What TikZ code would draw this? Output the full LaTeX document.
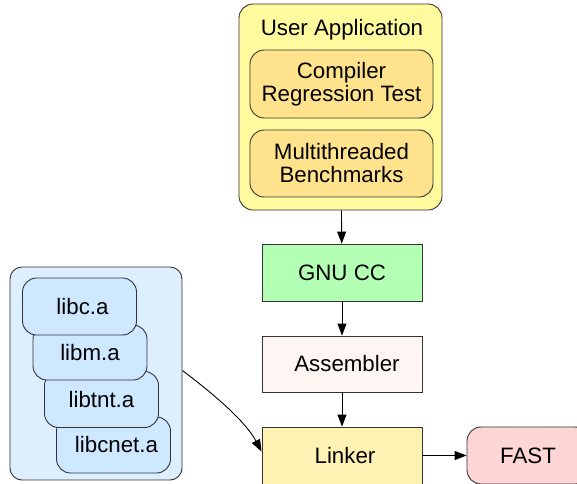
\documentclass[tikz,border=0pt]{standalone}
\usepackage{fontspec}
\setmainfont{Liberation Sans}
\usetikzlibrary{arrows.meta}
\definecolor{bord}{HTML}{333333}
\definecolor{userfill}{HTML}{FFFA9E}
\definecolor{innerfill}{HTML}{FFE38C}
\definecolor{gnufill}{HTML}{B3FFB3}
\definecolor{asmfill}{HTML}{FFF5F3}
\definecolor{linkfill}{HTML}{FFF2B3}
\definecolor{fastfill}{HTML}{FFD6D6}
\definecolor{libouter}{HTML}{DDEFFF}
\definecolor{libfill}{HTML}{CDE8FF}
\tikzset{
  box/.style={draw=bord, line width=0.9pt, inner sep=0pt, align=center,
    font=\fontsize{22.3}{23}\selectfont},
  rbox/.style={box, rounded corners=14pt},
  sbox/.style={box, minimum width=160pt, minimum height=57pt},
  libbox/.style={rbox, fill=libfill, minimum width=114pt, minimum height=56pt},
  conn/.style={draw=black, line width=0.9pt, -{Triangle[length=12pt,width=9pt]}}
}
\begin{document}
\begin{tikzpicture}[x=1pt, y=-1pt]
\useasboundingbox (0,0) rectangle (577,483);
\clip (0,0) rectangle (577,483);
\fill[white] (0,0) rectangle (577,483);
% user application
\node[rbox, fill=userfill, minimum width=203pt, minimum height=206pt] (user) at (340.5,107) {};
\node[font=\fontsize{22.3}{23}\selectfont] (ulabel) at (342,30) {User Application};
\node[rbox, fill=innerfill, minimum width=183pt, minimum height=68pt] (crt) at (341.5,84) {Compiler\\Regression Test};
\node[rbox, fill=innerfill, minimum width=183pt, minimum height=67pt] (mtb) at (341.5,163.5) {Multithreaded\\Benchmarks};
% pipeline
\node[sbox, fill=gnufill] (gnu) at (342,272.5) {GNU CC};
\node[sbox, fill=asmfill, minimum height=56pt] (asm) at (342,364) {\hspace{10pt}Assembler};
\node[sbox, fill=linkfill] (link) at (342,455.5) {\hspace{6pt}Linker};
\node[rbox, fill=fastfill, minimum width=122pt, minimum height=57pt] (fast) at (528,455.5) {FAST};
% libraries
\node[rbox, rounded corners=12pt, fill=libouter, minimum width=172pt, minimum height=213pt] (libs) at (96,373.5) {};
\node[libbox] (libcnet) at (113.5,445) {\hspace{6pt}libcnet.a};
\node[libbox] (libtnt) at (101.5,399.5) {libtnt.a};
\node[libbox, minimum height=55pt] (libm) at (90,352.5) {libm.a};
\node[libbox, minimum height=57pt] (libc) at (79.5,306.5) {\hspace{6pt}libc.a};
% connectors
\draw[conn] (user) -- (gnu);
\draw[conn] (gnu) -- (asm);
\draw[conn] (asm) -- (link);
\draw[conn] (link) -- (fast);
\draw[conn] (libs.east) ++(0,-3) coordinate (lstart) (lstart) .. controls +(33,25) and +(-16,-30) .. ([yshift=4pt]link.west);
\end{tikzpicture}
\end{document}
